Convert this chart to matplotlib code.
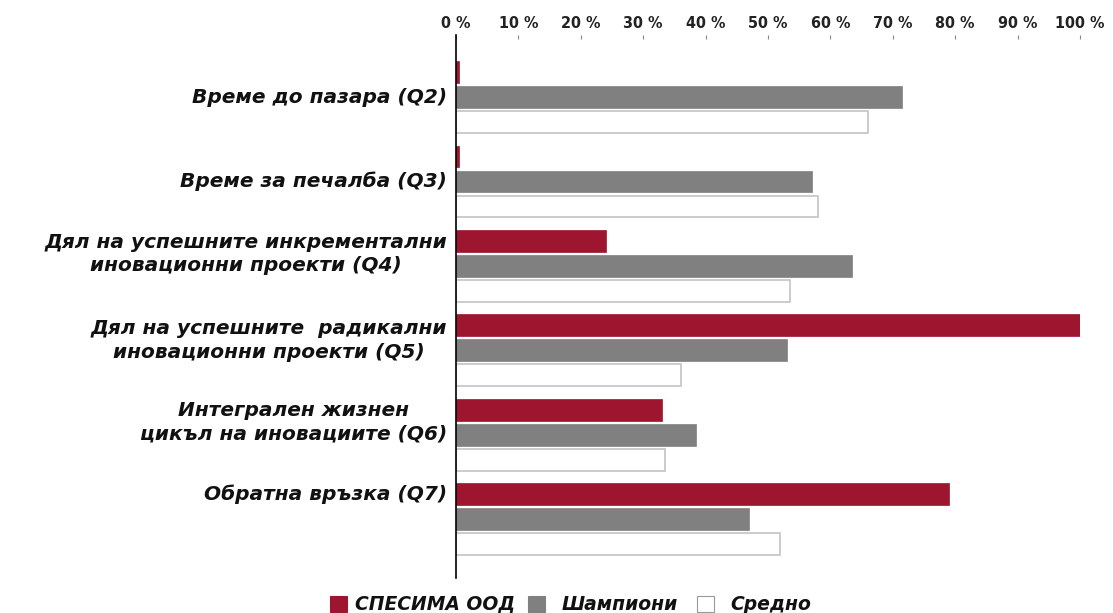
import matplotlib
matplotlib.use("Agg")
import matplotlib.pyplot as plt
from matplotlib.patches import Rectangle
import numpy as np

categories = [
    "Време до пазара (Q2)",
    "Време за печалба (Q3)",
    "Дял на успешните инкрементални\nиновационни проекти (Q4)",
    "Дял на успешните  радикални\nиновационни проекти (Q5)",
    "Интегрален жизнен\nцикъл на иновациите (Q6)",
    "Обратна връзка (Q7)",
]
series_names = ["СПЕСИМА ООД", "Шампиони", "Средно"]
spesima = [0.5, 0.5, 24, 100, 33, 79]
champions = [71.5, 57, 63.5, 53, 38.5, 47]
average = [66, 58, 53.5, 36, 33.5, 52]
x_ticks = [0, 10, 20, 30, 40, 50, 60, 70, 80, 90, 100]
x_tick_labels = [f"{v} %" for v in x_ticks]

W, H = 1113, 613
fig = plt.figure(figsize=(W / 100, H / 100), dpi=100)
ax_l, ax_r, ax_t, ax_b = 456, 1080, 35, 578
ax = fig.add_axes([ax_l / W, 1 - ax_b / H, (ax_r - ax_l) / W, (ax_b - ax_t) / H])

red = "#9e1530"
gray = "#808080"
edge_white = "#c4c4c4"

y = np.arange(len(categories))
off = 0.296
h = 0.26
ax.barh(y - off, spesima, height=h, color=red, edgecolor=red, linewidth=0.5)
ax.barh(y, champions, height=h, color=gray, edgecolor=gray, linewidth=0.5)
ax.barh(y + off, average, height=h, color="white", edgecolor=edge_white, linewidth=1.2)

ax.set_xlim(0, 100)
ax.set_ylim(5.695, -0.735)

ax.xaxis.tick_top()
ax.set_xticks(x_ticks)
ax.set_xticklabels(x_tick_labels, fontsize=11.5, fontweight="bold", family="DejaVu Sans",
                   fontstretch="condensed", color="#222222")
ax.tick_params(axis="x", direction="in", length=3, width=0.8, color="#888888", pad=3,
               top=True, bottom=False)
ax.set_yticks([])

for s in ["top", "right", "bottom"]:
    ax.spines[s].set_visible(False)
ax.spines["left"].set_color("black")
ax.spines["left"].set_linewidth(1.2)

# label vertical offsets (in category units) relative to group centre
label_offsets = [0.0, 0.0, -0.14, -0.12, -0.15, -0.30]
for i, (cat, dy) in enumerate(zip(categories, label_offsets)):
    ax.text(-1.45, i + dy, cat, ha="right", va="center", multialignment="center",
            fontsize=14.5, fontweight="bold", fontstyle="italic",
            family="DejaVu Sans", linespacing=1.3, color="#111111")

# legend
leg_y = 604
entries = [(330, 355, red, red), (528, 562, gray, gray), (697, 730, "white", "#999999")]
for (sx, tx, fc, ec), name in zip(entries, series_names):
    fig.add_artist(Rectangle((sx / W, 1 - (leg_y + 8) / H), 17 / W, 16 / H,
                             transform=fig.transFigure, facecolor=fc, edgecolor=ec, linewidth=0.8))
    fig.text(tx / W, 1 - leg_y / H, name, ha="left", va="center", fontsize=13.5,
             fontweight="bold", fontstyle="italic", family="DejaVu Sans", color="#111111")

fig.savefig("out.png", dpi=100)
